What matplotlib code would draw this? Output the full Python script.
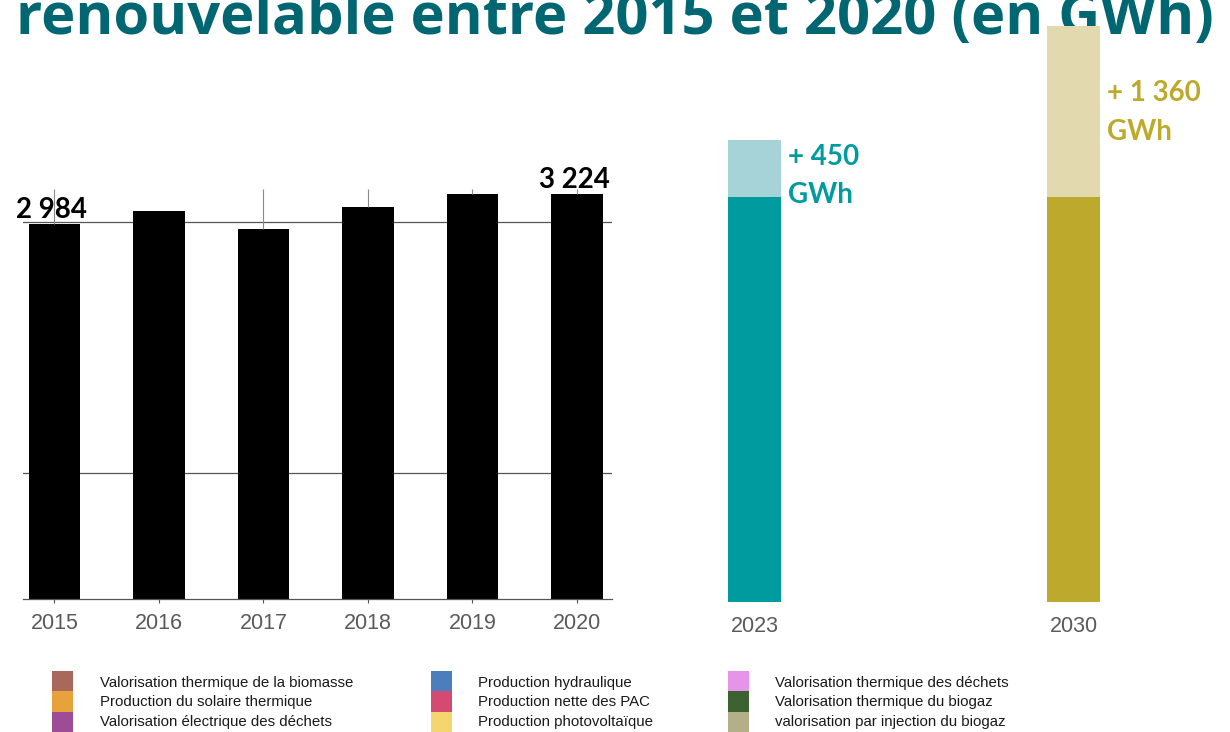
import matplotlib
matplotlib.use('Agg')
import matplotlib.pyplot as plt
from matplotlib.patches import Rectangle

# ---------------- data ----------------
title = "renouvelable entre 2015 et 2020 (en GWh)"

years = ['2015', '2016', '2017', '2018', '2019', '2020']
production = [2984, 3087, 2944, 3119, 3222, 3224]
value_labels = ['2 984', '', '', '', '', '3 224']
marker_years = [0, 2, 3, 4, 5]          # thin grey lines above bars
marker_top = 3262
gridlines = [1000, 3000]

proj_years = ['2023', '2030']
proj_base = [3224, 3224]
proj_add = [450, 1360]
proj_labels = ['+ 450\nGWh', '+ 1 360\nGWh']
proj_base_colors = ['#009B9E', '#BDAA2C']
proj_add_colors = ['#A5D3D7', '#E2DAAE']

legend_labels = [
    ['Valorisation thermique de la biomasse', 'Production du solaire thermique',
     'Valorisation électrique des déchets'],
    ['Production hydraulique', 'Production nette des PAC', 'Production photovoltaïque'],
    ['Valorisation thermique des déchets', 'Valorisation thermique du biogaz',
     'valorisation par injection du biogaz'],
]
legend_colors = [
    ['#A8685C', '#E8A23B', '#9C4D96'],
    ['#4B7EBC', '#D54A72', '#F5D66E'],
    ['#E594E8', '#3D6231', '#B3AF89'],
]

# ---------------- layout ----------------
W, H = 1230, 732
fig = plt.figure(figsize=(W / 100, H / 100), dpi=100)
PPU = 0.1257  # pixels per GWh
PT = 0.72     # points per pixel at 100 dpi


def px_axes(x0, x1, ybottom, ytop_val, **kw):
    return fig.add_axes([x0 / W, (H - ybottom) / H, (x1 - x0) / W, ytop_val * PPU / H], **kw)


GREY = '#555555'
TICK_FONT = dict(family='Liberation Sans', fontsize=15.5, color='#5a5a5a')
BOLD_FONT = dict(family='Lato', fontweight='bold', fontsize=20)

# Title (cut off at the top edge, as in the reference)
t = fig.text(16 / W, 1 - 34 / H, title, family='Open Sans', fontweight='bold',
             fontsize=36, color='#006671', ha='left', va='baseline', zorder=1)
fig.canvas.draw()
w = t.get_window_extent().width
t.set_fontsize(36 * 1197 / w)

# Left chart (2015-2020)
ax = px_axes(23, 612, 599, 4000)
ax.set_facecolor('none')
x = list(range(len(years)))
ax.bar(x, production, width=0.49, color='black', zorder=2)
for g in gridlines:
    ax.axhline(g, color=GREY, lw=0.9, zorder=1)
ax.vlines([x[i] for i in marker_years], [production[i] for i in marker_years], marker_top,
          color='#8a8a8a', lw=0.8, zorder=4)
for i, lab in enumerate(value_labels):
    if lab:
        ax.annotate(lab, (x[i], production[i]), xytext=(-3 * PT, 6 * PT),
                    textcoords='offset points', ha='center', va='baseline',
                    color='black', zorder=3, **BOLD_FONT)
ax.set_xlim(-0.301, 5.335)
ax.set_ylim(0, 4000)
ax.set_yticks([])
ax.set_xticks(x)
ax.set_xticklabels(years, **TICK_FONT)
ax.tick_params(axis='x', length=3, width=0.8, color=GREY, pad=7)
for s in ['left', 'right', 'top']:
    ax.spines[s].set_visible(False)
ax.spines['bottom'].set_color(GREY)
ax.spines['bottom'].set_linewidth(0.9)

# Right chart (projections)
axr = px_axes(700, 1130, 602, 4700, zorder=5)
axr.set_facecolor('none')
xr = [0, 1]
axr.bar(xr, proj_base, width=0.166, color=proj_base_colors)
axr.bar(xr, proj_add, bottom=proj_base, width=0.166, color=proj_add_colors)
label_offsets = [-63, -114]  # pixel offset of last-line baseline below bar top
for i, lab in enumerate(proj_labels):
    axr.annotate(lab, (xr[i] + 0.083, proj_base[i] + proj_add[i]),
                 xytext=(7 * PT, label_offsets[i] * PT), textcoords='offset points',
                 ha='left', va='baseline', color=proj_base_colors[i], linespacing=1.6,
                 **BOLD_FONT)
axr.set_xlim(-0.171, 1.177)
axr.set_ylim(0, 4700)
axr.set_yticks([])
axr.set_xticks(xr)
axr.set_xticklabels(proj_years, **TICK_FONT)
axr.tick_params(axis='x', length=0, pad=10)
for s in axr.spines.values():
    s.set_visible(False)

# Legend
axl = fig.add_axes([0, 0, 1, 1], zorder=0)
axl.set_facecolor('none')
axl.set_xlim(0, W)
axl.set_ylim(H, 0)
axl.axis('off')
patch_x = [52, 431, 728]
text_x = [100, 478, 775]
for c in range(3):
    for r in range(3):
        axl.add_patch(Rectangle((patch_x[c], 671 + r * 20.3), 21, 20.3,
                                facecolor=legend_colors[c][r], edgecolor='none'))
        axl.text(text_x[c], 683 + r * 19.3, legend_labels[c][r], family='Liberation Sans',
                 fontsize=10.8, color='#1a1a1a', ha='left', va='center')

fig.savefig('out.png', dpi=100)
